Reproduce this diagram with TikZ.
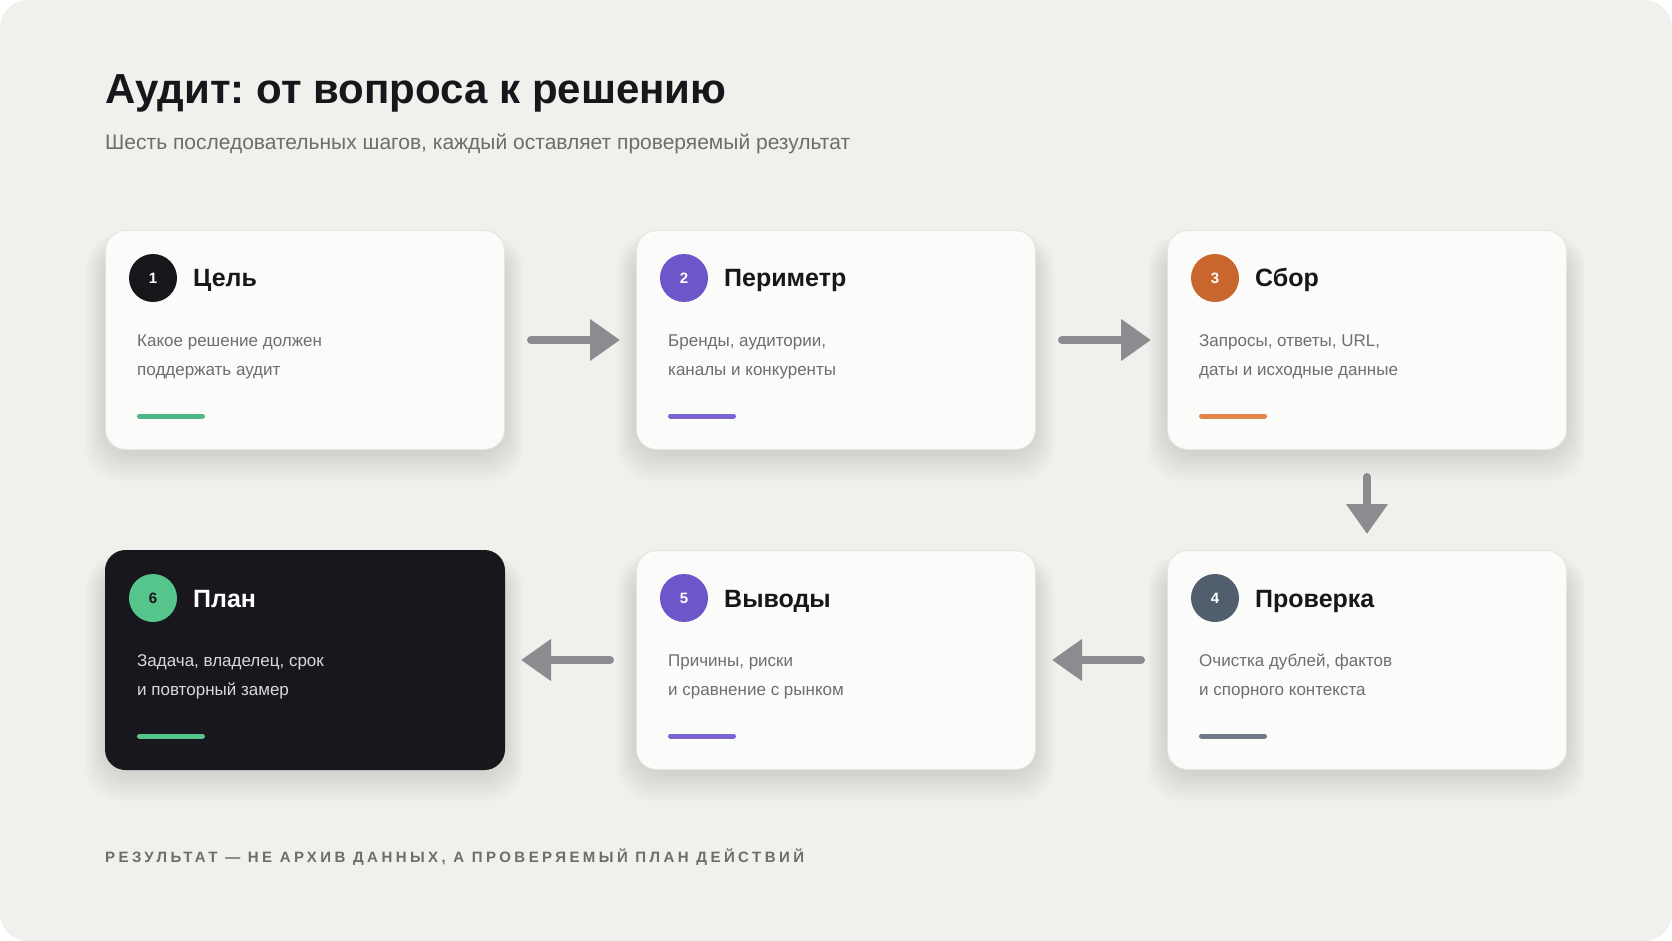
\documentclass[tikz,border=0pt]{standalone}
\usepackage{fontspec}
\setmainfont{Liberation Sans}
\newfontfamily\spacedfont[LetterSpace=23]{Liberation Sans}
\usepackage{tikz}
\usetikzlibrary{arrows.meta}
\definecolor{pagebg}{HTML}{F1F0EC}
\definecolor{cardfill}{HTML}{FBFBFA}
\definecolor{cardline}{HTML}{E6E4E0}
\definecolor{ink}{HTML}{16161B}
\definecolor{subgray}{HTML}{6F6D69}
\definecolor{bodygray}{HTML}{6E6E6E}
\definecolor{arrowgray}{HTML}{8C8B8F}
\definecolor{darkcard}{HTML}{18171D}
\definecolor{violet}{HTML}{6C56C9}
\definecolor{rust}{HTML}{C8662E}
\definecolor{slate}{HTML}{505E6D}
\definecolor{mint}{HTML}{55C58C}
\definecolor{barviolet}{HTML}{7B63D1}
\definecolor{barrust}{HTML}{E0864A}
\definecolor{barslate}{HTML}{6F7A88}
\definecolor{bargreen}{HTML}{4DB886}
\tikzset{
card/.style={draw=cardline, line width=1pt, fill=cardfill, rounded corners=20pt, minimum width=399pt, minimum height=219pt, inner sep=0pt, anchor=north west}, % white step card
cardshade/.style={fill=black, opacity=0.0065, rounded corners=34pt}, % one layer of the soft shadow
num/.style={circle, minimum size=48pt, inner sep=0pt, text=white, font=\bfseries\fontsize{15}{15}\selectfont}, % numbered disc
cardtitle/.style={anchor=base west, inner sep=0pt, text=ink, font=\bfseries\fontsize{25}{25}\selectfont},
cardtext/.style={anchor=base west, inner sep=0pt, align=left, text=bodygray, font=\fontsize{17}{29}\selectfont},
bar/.style={line width=5pt, line cap=round},
flow/.style={draw=arrowgray, line width=8pt, line cap=round, -{Triangle[length=30pt,width=40pt]}, shorten <=26pt, shorten >=16pt}, % arrow between steps
}
\begin{document}
\frenchspacing
\begin{tikzpicture}[x=1pt, y=-1pt]
        \fill[white] (0,0) rectangle (1672,941);
        \fill[pagebg, rounded corners=28pt] (0,0) rectangle (1672,941);
        \useasboundingbox (0,0) rectangle (1672,941);

        \node[anchor=base west, inner sep=0pt, text=ink, font=\bfseries\fontsize{42}{42}\selectfont] at (105,104) (title) {Аудит: от вопроса к решению};
        \node[anchor=base west, inner sep=0pt, text=subgray, font=\fontsize{21}{21}\selectfont] at (105,150) (subtitle) {Шесть последовательных шагов, каждый оставляет проверяемый результат};

        % soft shadows under the cards
        \foreach \cx/\cy in {105/230, 636/230, 1167/230, 105/550, 636/550, 1167/550}
            \foreach \s in {1,...,15}
                \fill[cardshade] (\cx-\s*1.3, \cy+16-\s*0.8) rectangle (\cx+399+\s*1.3, \cy+222+\s*2);

        % top row
        \node[card] at (105,230) (c1) {};
        \node[num, fill=ink] at (153,278) (n1) {1};
        \node[cardtitle] at (193,287) (t1) {Цель};
        \node[cardtext] at (137,375) (d1) {Какое решение должен\\поддержать аудит};
        \draw[bar, bargreen] (139.5,416) -- (202.5,416);

        \node[card] at (636,230) (c2) {};
        \node[num, fill=violet] at (684,278) (n2) {2};
        \node[cardtitle] at (724,287) (t2) {Периметр};
        \node[cardtext] at (668,375) (d2) {Бренды, аудитории,\\каналы и конкуренты};
        \draw[bar, barviolet] (670.5,416) -- (733.5,416);

        \node[card] at (1167,230) (c3) {};
        \node[num, fill=rust] at (1215,278) (n3) {3};
        \node[cardtitle] at (1255,287) (t3) {Сбор};
        \node[cardtext] at (1199,375) (d3) {Запросы, ответы, URL,\\даты и исходные данные};
        \draw[bar, barrust] (1201.5,416) -- (1264.5,416);

        % bottom row
        \node[card] at (1167,550) (c4) {};
        \node[num, fill=slate] at (1215,598) (n4) {4};
        \node[cardtitle] at (1255,607) (t4) {Проверка};
        \node[cardtext] at (1199,695) (d4) {Очистка дублей, фактов\\и спорного контекста};
        \draw[bar, barslate] (1201.5,736) -- (1264.5,736);

        \node[card] at (636,550) (c5) {};
        \node[num, fill=violet] at (684,598) (n5) {5};
        \node[cardtitle] at (724,607) (t5) {Выводы};
        \node[cardtext] at (668,695) (d5) {Причины, риски\\и сравнение с рынком};
        \draw[bar, barviolet] (670.5,736) -- (733.5,736);

        \node[card, fill=darkcard, draw=darkcard] at (105,550) (c6) {};
        \node[num, fill=mint, text=ink] at (153,598) (n6) {6};
        \node[cardtitle, text=white] at (193,607) (t6) {План};
        \node[cardtext, text=black!15] at (137,695) (d6) {Задача, владелец, срок\\и повторный замер};
        \draw[bar, mint] (139.5,736) -- (202.5,736);

        \draw[flow] (c1) -- (c2);
        \draw[flow] (c2) -- (c3);
        \draw[flow, shorten <=27pt] (c3) -- (c4);
        \draw[flow] (c4) -- (c5);
        \draw[flow] (c5) -- (c6);

        \node[anchor=base west, inner sep=0pt, text=subgray, font=\spacedfont\bfseries\fontsize{15}{15}\selectfont] at (105,862) (footer) {РЕЗУЛЬТАТ — НЕ АРХИВ ДАННЫХ, А ПРОВЕРЯЕМЫЙ ПЛАН ДЕЙСТВИЙ};
    \end{tikzpicture}
\end{document}
